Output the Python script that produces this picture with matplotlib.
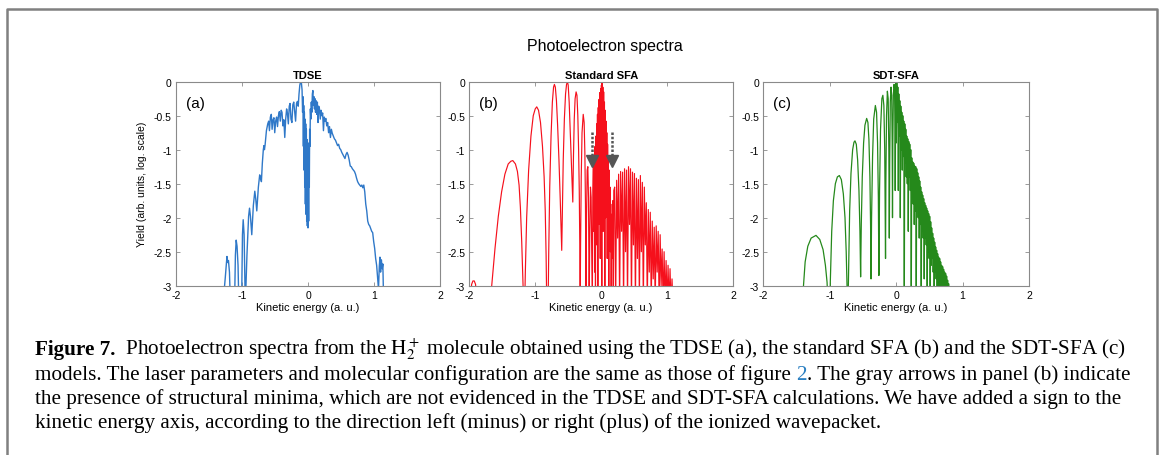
import matplotlib
matplotlib.use("Agg")
import matplotlib.pyplot as plt
from matplotlib.lines import Line2D

# panel (a): TDSE spectrum, vertices
tdse_x = [-1.30, -1.255, -1.228, -1.215, -1.205, -1.19, -1.172, -1.115, -1.10, -1.088, -1.075, -1.06, -1.045,
          -1.005, -0.993, -0.982, -0.968, -0.95, -0.925, -0.90, -0.886, -0.872, -0.852, -0.828, -0.806, -0.792,
          -0.776, -0.752, -0.732, -0.718, -0.706, -0.692, -0.677, -0.668, -0.660, -0.650, -0.630, -0.610, -0.596,
          -0.584, -0.570, -0.556, -0.544, -0.530, -0.516, -0.504, -0.490, -0.476, -0.462, -0.448, -0.434, -0.420,
          -0.406, -0.394, -0.380, -0.366, -0.352, -0.338, -0.324, -0.312, -0.298, -0.284, -0.272, -0.258, -0.244,
          -0.230, -0.216, -0.202, -0.188, -0.174, -0.160, -0.148, -0.136, -0.124, -0.112, -0.100, -0.090,
          -0.082, -0.076, -0.070, -0.065, -0.060, -0.055, -0.050, -0.045, -0.040, -0.035, -0.030, -0.025, -0.020,
          -0.015, -0.010, -0.005, 0.000, 0.005, 0.010, 0.015, 0.020, 0.025, 0.030, 0.036, 0.043, 0.050, 0.058,
          0.066, 0.074, 0.082, 0.090, 0.098, 0.106, 0.114, 0.122, 0.132, 0.142, 0.152, 0.162, 0.174, 0.186,
          0.198, 0.210, 0.222, 0.234, 0.246, 0.258, 0.270, 0.284, 0.298, 0.312, 0.326, 0.340, 0.354, 0.368,
          0.384, 0.400, 0.416, 0.432, 0.448, 0.464, 0.480, 0.496, 0.512, 0.528, 0.544, 0.560, 0.576, 0.592,
          0.608, 0.624, 0.640, 0.656, 0.672, 0.688, 0.704, 0.720, 0.736, 0.752, 0.768, 0.784, 0.800, 0.815,
          0.830, 0.845, 0.860, 0.875, 0.890, 0.905, 0.920, 0.935, 0.950, 0.965, 0.980, 0.995, 1.010, 1.025,
          1.040, 1.055, 1.068, 1.080, 1.090, 1.100, 1.112, 1.124, 1.134, 1.145]
tdse_y = [-3.4, -2.9, -2.57, -2.66, -2.63, -2.80, -3.4, -3.4, -2.55, -2.33, -2.42, -2.70, -3.4,
          -3.2, -2.25, -2.03, -2.25, -3.3, -2.55, -1.98, -1.86, -1.98, -2.25, -1.82, -1.61, -1.72,
          -1.90, -1.55, -1.37, -1.42, -1.47, -1.20, -1.00, -0.94, -1.00, -0.93, -0.72, -0.62, -0.58,
          -0.72, -0.52, -0.48, -0.70, -0.56, -0.53, -0.75, -0.58, -0.52, -0.66, -0.50, -0.44, -0.58,
          -0.42, -0.45, -0.65, -0.56, -0.82, -0.55, -0.40, -0.46, -0.62, -0.36, -0.32, -0.55, -0.60,
          -0.34, -0.30, -0.44, -0.58, -0.32, -0.29, -0.36, -0.18, -0.05, 0.0, -0.02, -0.12,
          -0.45, -0.22, -0.95, -0.35, -1.30, -0.45, -1.55, -0.55, -1.80, -0.62, -1.95, -0.70, -2.05,
          -0.85, -2.12, -1.00, -2.15, -1.10, -2.05, -0.90, -1.55, -0.70, -0.95, -0.40, -0.55, -0.30, -0.45,
          -0.18, -0.13, -0.35, -0.22, -0.40, -0.25, -0.45, -0.28, -0.48, -0.30, -0.60, -0.36, -0.40, -0.55,
          -0.42, -0.50, -0.46, -0.72, -0.52, -0.58, -0.54, -0.65, -0.60, -0.75, -0.66, -0.82, -0.70, -0.76,
          -0.80, -0.84, -0.86, -0.90, -0.94, -0.92, -0.98, -1.00, -1.04, -1.07, -1.10, -1.13, -1.07, -1.04,
          -1.08, -1.15, -1.24, -1.25, -1.28, -1.30, -1.32, -1.36, -1.42, -1.47, -1.50, -1.52, -1.54, -1.52,
          -1.56, -1.52, -1.62, -1.80, -1.90, -2.05, -2.10, -2.12, -2.16, -2.20, -2.22, -2.35, -2.45, -2.60,
          -2.70, -2.88, -3.05, -2.72, -2.58, -2.80, -2.62, -2.75, -2.68, -3.2]

# panel (b): standard SFA
sfa_x = [-1.985, -1.965, -1.945, -1.925, -1.905, -1.885,
         -1.675, -1.66, -1.61, -1.56, -1.51, -1.46, -1.41, -1.37, -1.34, -1.30, -1.27, -1.245, -1.225, -1.205, -1.185, -1.175,
         -1.16, -1.15, -1.13, -1.10, -1.065, -1.03, -1.00, -0.977, -0.95, -0.92, -0.89, -0.865, -0.848, -0.835, -0.825,
         -0.805, -0.795, -0.78, -0.76, -0.74, -0.722, -0.709, -0.695, -0.678, -0.66, -0.64, -0.62, -0.607, -0.598,
         -0.588, -0.575, -0.558, -0.54, -0.525, -0.512, -0.50, -0.485, -0.468, -0.452, -0.44, -0.43,
         -0.42, -0.408, -0.395, -0.38, -0.367, -0.354, -0.342, -0.332, -0.324, -0.318,
         -0.312, -0.302, -0.29, -0.272, -0.258, -0.247, -0.238, -0.23,
         -0.222, -0.212, -0.202, -0.192, -0.182, -0.172, -0.162, -0.152, -0.142, -0.134, -0.126, -0.118, -0.11, -0.104,
         -0.098, -0.092, -0.086, -0.080, -0.074, -0.068, -0.062, -0.056, -0.050, -0.044, -0.038, -0.032, -0.026,
         -0.020, -0.014, -0.008, -0.002, 0.004, 0.010, 0.014, 0.020, 0.026, 0.032, 0.038, 0.044, 0.050, 0.056,
         0.062, 0.068, 0.074, 0.080, 0.086, 0.092, 0.098, 0.104, 0.110, 0.116, 0.122, 0.128, 0.134, 0.140,
         0.146, 0.152, 0.160, 0.168, 0.176, 0.184, 0.192,
         0.205, 0.22, 0.235, 0.25, 0.265, 0.28, 0.295, 0.31, 0.325, 0.34, 0.355, 0.37, 0.385, 0.40,
         0.415, 0.43, 0.445, 0.46, 0.475, 0.49, 0.505, 0.52, 0.535, 0.55, 0.565, 0.58, 0.595, 0.61,
         0.625, 0.64, 0.655, 0.67, 0.685, 0.70, 0.715, 0.73, 0.745, 0.76, 0.775, 0.79, 0.805, 0.82,
         0.835, 0.85, 0.865, 0.88, 0.895, 0.91, 0.925, 0.94, 0.955, 0.97, 0.985, 1.00, 1.015, 1.03,
         1.045, 1.06, 1.075, 1.09]
sfa_y = [-3.3, -2.98, -2.93, -2.93, -2.98, -3.3,
         -3.3, -3.0, -2.45, -1.98, -1.62, -1.36, -1.21, -1.17, -1.16, -1.21, -1.32, -1.52, -1.85, -2.35, -3.0, -3.3,
         -3.3, -2.8, -2.0, -1.3, -0.8, -0.5, -0.4, -0.37, -0.42, -0.6, -0.95, -1.4, -1.9, -2.55, -3.3,
         -3.3, -2.5, -1.55, -0.8, -0.3, -0.08, -0.04, -0.08, -0.28, -0.65, -1.15, -1.75, -2.2, -2.48,
         -1.9, -1.15, -0.55, -0.18, -0.04, 0.0, -0.05, -0.3, -0.75, -1.15, -1.5, -1.77,
         -1.1, -0.55, -0.25, -0.15, -0.2, -0.5, -1.0, -1.6, -2.4, -3.3,
         -2.4, -1.4, -0.75, -0.48, -0.6, -1.05, -1.8, -3.3,
         -2.0, -1.3, -1.25, -1.7, -3.3, -2.2, -1.55, -1.7, -2.6, -3.3, -1.6, -1.25, -2.2, -1.1,
         -2.8, -0.95, -3.3, -0.80, -2.4, -0.62, -1.9, -0.48, -3.3, -0.38, -2.1, -0.26, -1.7,
         -0.16, -2.6, -0.10, -1.5, -0.05, -3.3, -0.02, -1.4, -0.08, -2.2, -0.15, -1.7, -0.30, -3.3,
         -0.42, -2.0, -0.58, -1.8, -0.75, -2.6, -0.92, -2.0, -1.10, -3.3, -1.30, -2.2, -1.55, -2.5,
         -1.80, -3.3, -1.95, -2.6, -1.75, -3.3, -1.60,
         -1.55, -3.3, -1.45, -2.3, -1.36, -3.3, -1.32, -2.2, -1.33, -3.3, -1.28, -2.5, -1.30, -3.3,
         -1.25, -2.1, -1.28, -3.3, -1.33, -2.4, -1.35, -3.3, -1.42, -2.6, -1.44, -3.3, -1.38, -2.5,
         -1.48, -3.3, -1.55, -2.4, -1.78, -3.3, -1.88, -2.8, -1.92, -3.3, -2.05, -2.9, -2.14, -3.3,
         -2.12, -2.8, -2.20, -3.3, -2.25, -3.0, -2.46, -3.3, -2.50, -3.3, -2.63, -3.3, -2.70, -3.3,
         -2.75, -3.3, -2.90, -3.3]

# panel (c): SDT-SFA
sdt_x = [-1.41, -1.395, -1.37, -1.33, -1.28, -1.207, -1.15, -1.10, -1.065, -1.04, -1.025,
         -1.0, -0.99, -0.97, -0.945, -0.915, -0.885, -0.855, -0.825, -0.795, -0.77, -0.752, -0.74, -0.732,
         -0.725, -0.715, -0.70, -0.68, -0.655, -0.635, -0.62, -0.60, -0.58, -0.56, -0.545, -0.535,
         -0.525, -0.51, -0.49, -0.47, -0.444, -0.425, -0.41, -0.395, -0.385, -0.378,
         -0.37, -0.355, -0.338, -0.313, -0.295, -0.28, -0.268, -0.26,
         -0.25, -0.235, -0.215, -0.20, -0.185, -0.172, -0.16,
         -0.155, -0.145, -0.132, -0.12, -0.11, -0.103,
         -0.097, -0.088, -0.077, -0.067, -0.06, -0.055,
         -0.05, -0.042, -0.032, -0.024, -0.018, -0.014,
         -0.005, 0.0025, 0.010, 0.0175, 0.025, 0.0325, 0.040, 0.0475, 0.055, 0.0625, 0.070, 0.0775, 0.085, 0.0925,
         0.100, 0.1075, 0.115, 0.1225, 0.130, 0.1375, 0.145, 0.1525, 0.160, 0.1675, 0.175, 0.1825, 0.190, 0.1975,
         0.205, 0.2125, 0.220, 0.2275, 0.235, 0.2425, 0.250, 0.2575, 0.265, 0.2725, 0.280, 0.2875, 0.295, 0.3025,
         0.310, 0.3175, 0.325, 0.3325, 0.340, 0.3475, 0.355, 0.3625, 0.370, 0.3775, 0.385, 0.3925, 0.400, 0.4075,
         0.415, 0.4225, 0.430, 0.4375, 0.445, 0.4525, 0.460, 0.4675, 0.475, 0.4825, 0.490, 0.4975, 0.505, 0.5125,
         0.520, 0.5275, 0.535, 0.5425, 0.550, 0.5575, 0.565, 0.5725, 0.580, 0.5875, 0.595, 0.6025, 0.610, 0.6175,
         0.625, 0.6325, 0.640, 0.6475, 0.655, 0.6625, 0.670, 0.6775, 0.685, 0.6925, 0.700, 0.7075, 0.715, 0.7225,
         0.730, 0.7375, 0.745, 0.7525, 0.760, 0.7675, 0.775, 0.7825, 0.790, 0.7975]
sdt_y = [-3.3, -3.0, -2.65, -2.42, -2.30, -2.26, -2.32, -2.47, -2.70, -2.95, -3.3,
         -3.3, -2.9, -2.2, -1.75, -1.5, -1.4, -1.38, -1.44, -1.65, -2.0, -2.5, -3.0, -3.3,
         -3.3, -2.7, -1.9, -1.35, -1.0, -0.89, -0.87, -0.92, -1.15, -1.6, -2.2, -2.87,
         -2.1, -1.4, -0.9, -0.64, -0.54, -0.6, -0.85, -1.4, -2.1, -2.9,
         -2.0, -1.1, -0.55, -0.35, -0.45, -0.9, -1.7, -2.85,
         -1.6, -0.7, -0.25, -0.2, -0.35, -1.0, -2.6,
         -1.5, -0.5, -0.14, -0.25, -1.0, -2.3,
         -1.2, -0.3, -0.08, -0.2, -0.9, -2.0,
         -0.9, -0.2, -0.04, -0.1, -0.7, -1.6,
         -0.00, -0.9, -0.02, -0.6, -0.08, -1.6, -0.18, -0.8, -0.28, -2.0, -0.36, -1.0, -0.45, -1.3,
         -0.50, -1.1, -0.58, -3.3, -0.62, -1.2, -0.70, -1.4, -0.80, -1.5, -0.84, -2.2, -0.88, -1.4,
         -0.92, -1.6, -1.00, -3.3, -1.12, -1.7, -1.18, -1.8, -1.20, -2.1, -1.24, -1.9, -1.25, -3.3,
         -1.28, -1.8, -1.34, -2.0, -1.40, -2.3, -1.46, -2.1, -1.55, -3.3, -1.62, -2.2, -1.67, -2.3,
         -1.72, -2.9, -1.78, -2.3, -1.82, -2.4, -1.86, -3.3, -1.90, -2.5, -1.94, -2.6, -1.98, -3.3,
         -2.06, -2.7, -2.15, -2.6, -2.23, -2.8, -2.30, -3.3, -2.36, -2.8, -2.43, -2.9, -2.48, -3.3,
         -2.53, -3.0, -2.58, -3.3, -2.60, -3.0, -2.65, -3.3, -2.70, -3.3, -2.72, -3.1, -2.76, -3.3,
         -2.80, -3.3, -2.82, -3.3, -2.86, -3.3, -2.92, -3.3, -2.97, -3.3]

panel_titles = ["TDSE", "Standard SFA", "SDT-SFA"]
panel_tags = ["(a)", "(b)", "(c)"]
line_colors = ["#2f78c8", "#f5101c", "#25891b"]
x_ticks = [-2, -1, 0, 1, 2]
y_ticks = [-3, -2.5, -2, -1.5, -1, -0.5, 0]
y_tick_labels = ["-3", "-2.5", "-2", "-1.5", "-1", "-0.5", "0"]

# gray arrows in panel (b)
arrow_x = [-0.14, 0.17]
arrow_top = -0.74
arrow_tip = -1.17

plt.rcParams['font.family'] = 'Liberation Sans'
plt.rcParams['mathtext.fontset'] = 'stix'
plt.rcParams['axes.unicode_minus'] = False

W, H = 1165, 456
fig = plt.figure(figsize=(W / 100, H / 100), dpi=100)

lefts = [176, 469.3, 763.3]
widths = [264, 263.7, 265.7]
top, bottom = 82.7, 286.7
data = [(tdse_x, tdse_y), (sfa_x, sfa_y), (sdt_x, sdt_y)]
line_w = [1.0, 0.85, 0.9]

axes = []
for i in range(3):
    ax = fig.add_axes([lefts[i] / W, 1 - bottom / H, widths[i] / W, (bottom - top) / H])
    ax.plot(data[i][0], data[i][1], color=line_colors[i], lw=line_w[i])
    ax.set_xlim(-2, 2)
    ax.set_ylim(-3, 0)
    ax.set_xticks(x_ticks)
    ax.set_yticks(y_ticks)
    ax.set_yticklabels(y_tick_labels)
    ax.tick_params(direction='in', top=True, right=True, length=3, width=0.6,
                   color='#8a8a8a', labelsize=7.5, pad=3)
    for s in ax.spines.values():
        s.set_color('#8a8a8a')
        s.set_linewidth(0.8)
    ax.set_title(panel_titles[i], fontsize=8, fontweight='bold', pad=3)
    ax.set_xlabel('Kinetic energy (a. u.)', fontsize=8, labelpad=1.5)
    ax.text(0.038, 0.895, panel_tags[i], transform=ax.transAxes, fontsize=11, va='center')
    axes.append(ax)

axes[0].set_ylabel('Yield (arb. units, log. scale)', fontsize=7.5, labelpad=5)

for xa in arrow_x:
    axes[1].plot([xa, xa], [arrow_top, arrow_tip + 0.06], color='#555555', lw=1.8,
                 dashes=(1.0, 0.7), solid_capstyle='butt')
    axes[1].plot([xa], [arrow_tip], marker='v', markersize=8, color='#555555', mec='#555555')

fig.text(605 / W, 1 - 46 / H, 'Photoelectron spectra', ha='center', va='center', fontsize=11.5)

# border of the figure box
fig.add_artist(Line2D([7 / W, 7 / W, 1157 / W, 1157 / W], [-0.05, 1 - 10 / H, 1 - 10 / H, -0.05],
                      transform=fig.transFigure, color='#808080', lw=1.8))

# caption
cap_size = 15.2
renderer = fig.canvas.get_renderer()


def put_runs(x_px, y_px, runs):
    x = x_px
    for s, kw in runs:
        t = fig.text(x / W, 1 - y_px / H, s, fontsize=cap_size, family='Liberation Serif',
                     va='baseline', ha='left', **kw)
        x += t.get_window_extent(renderer=renderer).width


put_runs(35, 355, [('Figure 7.', {'fontweight': 'bold'}),
                   ('  Photoelectron spectra from the $\\mathrm{H}_2^+$ molecule obtained using the TDSE (a), '
                    'the standard SFA (b) and the SDT-SFA (c)', {})])
put_runs(35, 380, [('models. The laser parameters and molecular configuration are the same as those of figure ', {}),
                   ('2', {'color': '#2a7fc1'}),
                   ('. The gray arrows in panel (b) indicate', {})])
put_runs(35, 404, [('the presence of structural minima, which are not evidenced in the TDSE and SDT-SFA '
                    'calculations. We have added a sign to the', {})])
put_runs(35, 428, [('kinetic energy axis, according to the direction left (minus) or right (plus) '
                    'of the ionized wavepacket.', {})])

fig.savefig('out.png', dpi=100)
